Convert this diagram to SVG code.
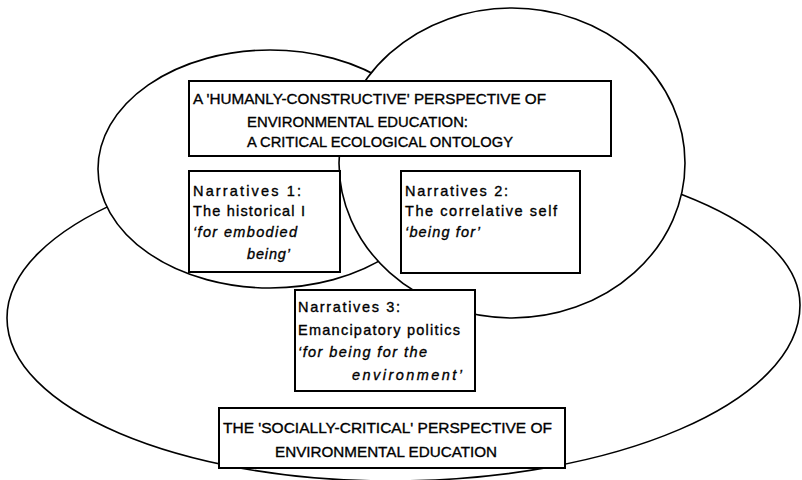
<svg xmlns="http://www.w3.org/2000/svg" width="802" height="480" viewBox="0 0 802 480">
<style>
.shape{fill:#fff;stroke:#000;stroke-width:1.6}
.box{fill:#fff;stroke:#000;stroke-width:2}
text{font-family:"Liberation Sans",Arial,sans-serif;fill:#000;stroke:#000;stroke-width:0.35}
.cap{font-size:15px}
.nar{font-size:14.5px}
.it{font-style:italic}
</style>
<rect width="802" height="480" fill="#fff"/>
<g id="socially-critical-area">
<path class="shape" d="M7,318 C7,227 184,150 403,150 C622,150 800,219 800,305 C800,402 616,481 390,481 C179,481 7,408 7,318 Z"/>
</g>
<g id="humanly-constructive-area-left">
<ellipse class="shape" cx="270" cy="169" rx="172" ry="119"/>
</g>
<g id="humanly-constructive-area-right">
<ellipse class="shape" cx="512" cy="163" rx="173" ry="155"/>
</g>
<g id="connectors"></g>
<g id="box-humanly">
<rect class="box" x="189" y="81" width="422" height="75"/>
<text class="cap" x="193" y="104" textLength="353" lengthAdjust="spacingAndGlyphs">A 'HUMANLY-CONSTRUCTIVE' PERSPECTIVE OF</text>
<text class="cap" x="247" y="127" textLength="221" lengthAdjust="spacingAndGlyphs">ENVIRONMENTAL EDUCATION:</text>
<text class="cap" x="247" y="147" textLength="266" lengthAdjust="spacingAndGlyphs">A CRITICAL ECOLOGICAL ONTOLOGY</text>
</g>
<g id="box-narratives-1">
<rect class="box" x="189" y="171" width="151" height="101"/>
<text class="nar" x="193" y="196" textLength="108" lengthAdjust="spacing">Narratives  1:</text>
<text class="nar" x="193" y="216" textLength="112" lengthAdjust="spacing">The historical I</text>
<text class="nar it" x="193" y="237" textLength="104" lengthAdjust="spacing">‘for embodied</text>
<text class="nar it" x="247" y="259" textLength="43" lengthAdjust="spacing">being’</text>
</g>
<g id="box-narratives-2">
<rect class="box" x="401" y="171" width="179" height="102"/>
<text class="nar" x="405" y="196" textLength="103" lengthAdjust="spacing">Narratives  2:</text>
<text class="nar" x="405" y="216" textLength="152" lengthAdjust="spacing">The correlative self</text>
<text class="nar it" x="405" y="237" textLength="75" lengthAdjust="spacing">‘being for’</text>
</g>
<g id="box-narratives-3">
<rect class="box" x="295" y="290" width="180" height="101"/>
<text class="nar" x="298" y="312" textLength="102" lengthAdjust="spacing">Narratives  3:</text>
<text class="nar" x="298" y="335" textLength="162" lengthAdjust="spacing">Emancipatory politics</text>
<text class="nar it" x="298" y="357" textLength="129" lengthAdjust="spacing">‘for being for the</text>
<text class="nar it" x="352" y="380" textLength="110" lengthAdjust="spacing">environment’</text>
</g>
<g id="box-socially">
<rect class="box" x="219" y="408" width="346" height="60"/>
<text class="cap" x="223" y="433" textLength="329" lengthAdjust="spacingAndGlyphs">THE 'SOCIALLY-CRITICAL' PERSPECTIVE OF</text>
<text class="cap" x="275" y="457" textLength="222" lengthAdjust="spacingAndGlyphs">ENVIRONMENTAL EDUCATION</text>
</g>
</svg>
